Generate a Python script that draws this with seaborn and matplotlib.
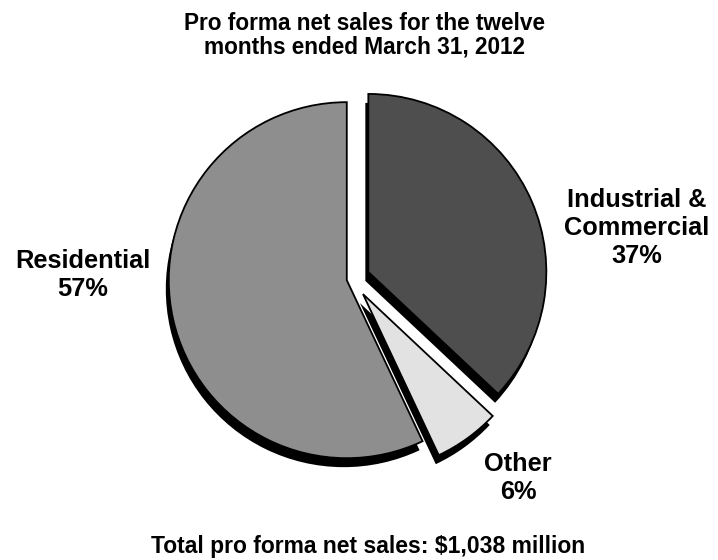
import matplotlib
matplotlib.use("Agg")
import matplotlib.pyplot as plt
import seaborn as sns

# ---- data ----
categories = ["Residential", "Industrial &\nCommercial", "Other"]
shares = [57, 37, 6]
title_text = "Pro forma net sales for the twelve\nmonths ended March 31, 2012"
footer_text = "Total pro forma net sales: $1,038 million"

# ---- style ----
sns.set_style("white")
plt.rcParams["font.family"] = ["Liberation Sans", "DejaVu Sans"]
plt.rcParams["text.color"] = "black"

colors = ["#8e8e8e", "#4e4e4e", "#e2e2e2"]
explode = [0.03, 0.1, 0.105]

W, H = 718, 560
R = 178.0              # pie radius in pixels
CX, CY = 352.0, 279.0  # nominal pie center in pixels

fig = plt.figure(figsize=(W / 100, H / 100), dpi=100)
ax = fig.add_axes([0, 0, 1, 1])

# order so wedges run counter-clockwise from 12 o'clock:
# Residential on the left, Industrial on the right
order = [0, 2, 1]
vals = [shares[i] for i in order]
cols = [colors[i] for i in order]
expl = [explode[i] for i in order]

# shadow
ax.pie(vals, explode=expl, startangle=90, counterclock=True,
       colors=["black"] * len(vals), center=(-3 / R, -9 / R),
       wedgeprops=dict(linewidth=0))
# wedges
ax.pie(vals, explode=expl, startangle=90, counterclock=True,
       colors=cols, center=(0, 0),
       wedgeprops=dict(edgecolor="black", linewidth=1.3))

ax.set_aspect("auto")
ax.set_xlim(-CX / R, (W - CX) / R)
ax.set_ylim((CY - H) / R, CY / R)
ax.axis("off")


def fx(px):
    return px / W


def fy(py):
    return 1 - py / H


fig.text(fx(364), fy(35), title_text, ha="center", va="center",
         fontsize=16.3, fontweight="bold", linespacing=1.05)

label_pos = [(83, 275), (637, 228), (518, 478)]
for cat, val, (px, py) in zip(categories, shares, label_pos):
    fig.text(fx(px), fy(py), f"{cat}\n{val}%", ha="center", va="center",
             fontsize=18.3, fontweight="bold", linespacing=1.2)

fig.text(fx(368), fy(546), footer_text, ha="center", va="center",
         fontsize=16.5, fontweight="bold")

fig.savefig("out.png", dpi=100)
